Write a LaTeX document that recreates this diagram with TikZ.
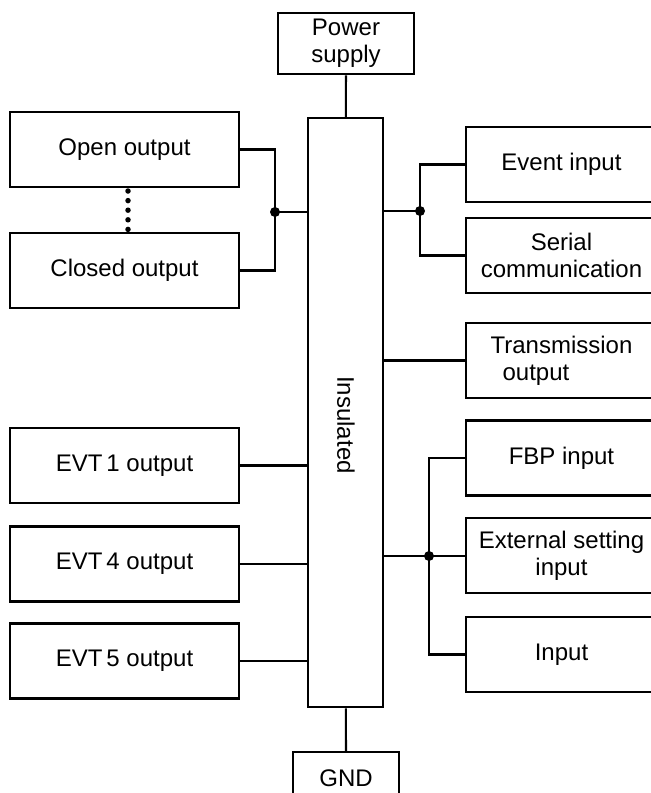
\documentclass[tikz,border=0pt]{standalone}
\usepackage{fontspec}
\setmainfont{Liberation Sans}
\begin{document}
\begin{tikzpicture}[x=1pt,y=-1pt,
  box/.style={draw, line width=2.5pt, inner sep=0pt, align=center,
    font=\fontsize{24pt}{27pt}\selectfont},
  lbox/.style={box, minimum width=229pt, minimum height=75pt},
  rbox/.style={box, minimum width=191pt, minimum height=75pt},
  wire/.style={line width=2.1pt},
  junc/.style={fill=black, circle, inner sep=0pt, minimum size=10pt}]
\useasboundingbox (0,0) rectangle (651,793);
\clip (0,0) rectangle (651,793);
\fill[white] (0,0) rectangle (651,793);

% nodes
\node[box, minimum width=136pt, minimum height=61pt] (power) at (346,43.5) {Power\\supply};
\node[box, minimum width=75pt, minimum height=589pt] (ins) at (345.5,412.5) {};
\node[font=\fontsize{24pt}{27pt}\selectfont, rotate=-90] (instext) at (346,425) {Insulated};
\node[box, minimum width=106pt, minimum height=53pt] (gnd) at (346,778.5) {GND};

\node[lbox] (open) at (124.5,149.5) {Open output};
\node[lbox] (closed) at (124.5,270.5) {Closed output};
\node[lbox] (evt1) at (124.5,465.5) {EVT\,1 output};
\node[lbox] (evt4) at (124.5,564) {EVT\,4 output};
\node[lbox] (evt5) at (124.5,661) {EVT\,5 output};

\node[rbox] (event) at (561.5,164.5) {Event input};
\node[rbox] (serial) at (561.5,255.5) {Serial\\communication};
\node[rbox, align=left] (trans) at (561.5,360.5) {Transmission\\\hspace*{12pt}output};
\node[rbox] (fbp) at (561.5,458) {FBP input};
\node[rbox] (ext) at (561.5,555.5) {External setting\\input};
\node[rbox] (inp) at (561.5,654.5) {Input};

% junction points
\coordinate (jL) at (275,212);
\coordinate (jR) at (420,211);
\coordinate (jR2) at (429,556);

% connectors
\draw[wire] (power) -- (ins);
\draw[wire] (ins) -- (gnd);

\draw[wire] (open.east) -| (jL) |- (closed.east);
\draw[wire] (jL) -- (jL -| ins.west);
\node[junc] (dotL) at (jL) {};

\draw[wire] (jR -| ins.east) -- (jR);
\draw[wire] (event.west) -| (jR) |- (serial.west);
\node[junc] (dotR) at (jR) {};

\draw[wire] (ins.east |- trans.west) -- (trans.west);

\draw[wire] (ins.east |- jR2) -- (jR2) -- (jR2 -| ext.west);
\draw[wire] (fbp.west) -| (jR2) |- (inp.west);
\node[junc] (dotR2) at (jR2) {};

\draw[wire] (evt1.east) -- (ins.west |- evt1.east);
\draw[wire] (evt4.east) -- (ins.west |- evt4.east);
\draw[wire] (evt5.east) -- (ins.west |- evt5.east);

% dotted link
\coordinate (dA) at (128,191);
\coordinate (dB) at (128,229.5);
\draw[line width=5.5pt, line cap=round, dash pattern=on 0pt off 9.6pt] (dA) -- (dB);
\end{tikzpicture}
\end{document}
